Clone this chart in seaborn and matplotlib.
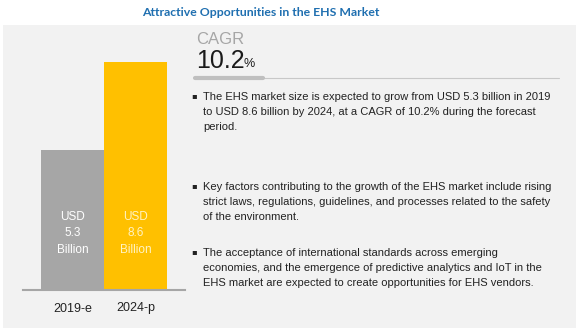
import matplotlib
matplotlib.use("Agg")
import matplotlib.pyplot as plt
import seaborn as sns
import pandas as pd
from matplotlib.patches import Rectangle
from matplotlib.lines import Line2D

categories = ["2019-e", "2024-p"]
values = [5.3, 8.6]
bar_labels = ["USD\n5.3\nBillion", "USD\n8.6\nBillion"]
bar_colors = ["#a6a6a6", "#ffc000"]
label_colors = ["#ffffff", "#fff3c4"]
title = "Attractive Opportunities in the EHS Market"
cagr_value = "10.2"
bullets = [
    "The EHS market size is expected to grow from USD 5.3 billion in 2019\nto USD 8.6 billion by 2024, at a CAGR of 10.2% during the forecast\nperiod.",
    "Key factors contributing to the growth of the EHS market include rising\nstrict laws, regulations, guidelines, and processes related to the safety\nof the environment.",
    "The acceptance of international standards across emerging\neconomies, and the emergence of predictive analytics and IoT in the\nEHS market are expected to create opportunities for EHS vendors.",
]

sns.set_theme(style="white")
plt.rcParams["font.family"] = ["Liberation Sans", "DejaVu Sans"]

W, H = 580, 334
fig = plt.figure(figsize=(W / 100, H / 100), dpi=100)
fig.patch.set_facecolor("white")

def fx(px):
    return px / W

def fy(py):
    return 1 - py / H

# background panel
fig.patches.append(Rectangle((fx(3), fy(328)), fx(576) - fx(3), fy(25) - fy(328),
                             transform=fig.transFigure, facecolor="#f2f2f2",
                             edgecolor="none", zorder=-5))

fig.text(fx(261), fy(12), title, ha="center", va="center", fontsize=8.8,
         fontweight="bold", color="#1f6fb0", family=["Lato", "Liberation Sans", "DejaVu Sans"])

# bar axes
ax = fig.add_axes([fx(23), fy(290), fx(185) - fx(23), fy(40) - fy(290)])
ax.set_facecolor("none")
ax.set_zorder(2)
df = pd.DataFrame({"year": categories, "value": values})
sns.barplot(data=df, x="year", y="value", hue="year", palette=bar_colors,
            width=1.0, legend=False, ax=ax, saturation=1, edgecolor="none")
ax.set_xlim(-0.786, 1.786)
ax.set_ylim(0, 250 / 26.5)
for s in ["top", "right", "left"]:
    ax.spines[s].set_visible(False)
ax.spines["bottom"].set_color("#a6a6a6")
ax.spines["bottom"].set_linewidth(1.5)
ax.set_yticks([])
ax.set_xlabel("")
ax.set_ylabel("")
ax.tick_params(axis="x", length=0, pad=9, labelsize=9, labelcolor="#222222")
for i, (lab, c) in enumerate(zip(bar_labels, label_colors)):
    ax.text(i, 2.15, lab, ha="center", va="center", color=c, fontsize=8.5,
            linespacing=1.5)

# CAGR block
fig.text(fx(196), fy(40), "CAGR", ha="left", va="center", fontsize=12, color="#a6a6a6")
fig.text(fx(196), fy(61), cagr_value, ha="left", va="center", fontsize=18, color="#1a1a1a")
fig.text(fx(244), fy(64), "%", ha="left", va="center", fontsize=9, color="#1a1a1a")
fig.lines.append(Line2D([fx(195), fx(559)], [fy(78), fy(78)], transform=fig.transFigure,
                        color="#c8c8c8", lw=0.8))
fig.lines.append(Line2D([fx(195), fx(263)], [fy(78), fy(78)], transform=fig.transFigure,
                        color="#bfbfbf", lw=3))

# bullets
tops = [96, 186, 252]
for top, txt in zip(tops, bullets):
    fig.text(fx(191), fy(top), "\u25aa", ha="left", va="center", fontsize=6, color="#222222",
             family=["DejaVu Sans"])
    fig.text(fx(203), fy(top - 4), txt, ha="left", va="top", fontsize=8.0,
             color="#222222", linespacing=1.62)

fig.savefig("out.png", dpi=100)
